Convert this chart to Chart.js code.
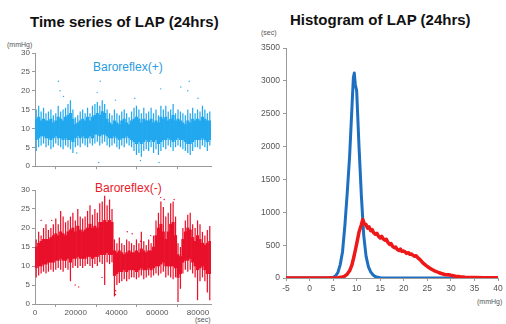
<!DOCTYPE html>
<html><head><meta charset="utf-8">
<script src="https://cdn.jsdelivr.net/npm/chart.js@4.4.0/dist/chart.umd.min.js"></script>
<style>
body{margin:0;width:506px;height:324px;background:#fff;position:relative;overflow:hidden;font-family:"Liberation Sans",Arial,sans-serif}
.t{position:absolute;white-space:nowrap;line-height:1}
canvas{position:absolute}
</style></head><body>
<div class="t" style="left:30px;top:14px;font-size:15px;font-weight:bold;color:#111">Time series of LAP (24hrs)</div>
<div class="t" style="left:290px;top:12px;font-size:15px;font-weight:bold;color:#111">Histogram of LAP (24hrs)</div>
<div class="t" style="left:7px;top:41px;font-size:7px;color:#555">(mmHg)</div>
<div class="t" style="left:261px;top:29px;font-size:7px;color:#555">(sec)</div>
<div class="t" style="left:195px;top:316px;font-size:7px;color:#555">(sec)</div>
<div class="t" style="left:477px;top:298px;font-size:7px;color:#555">(mmHg)</div>
<div class="t" style="left:93px;top:61px;font-size:12px;color:#2a9be0">Baroreflex(+)</div>
<div class="t" style="left:95px;top:182px;font-size:12px;color:#e8202a">Baroreflex(-)</div>
<canvas id="c1" width="222" height="128" style="left:0;top:45px"></canvas>
<canvas id="c2" width="222" height="142" style="left:0;top:182px"></canvas>
<canvas id="c3" width="253" height="270" style="left:253px;top:40px"></canvas>
<script>
// ---- Time series (24 h, bins of 1200 s) ----
const BIN = 1200;
const timeTicks = [0, 20000, 40000, 60000, 80000];
// Baroreflex(+) (blue)
const plusSpikeHigh = [15,16,14.5,15.5,14, 14.5,15,13.5,14,16,14.5,15,15.5, 16.5,17.5,15,13, 13.5,14.5,15,14,15.5,14,16, 16.5,17,16,17.5,16.5,15, 14,13.5,15,14,13.5,14.5,15,14,13,14.5,15.5, 16,15,14,15.5,14, 14.5,15.5,14,15,13.5,16, 15,16,14.5,15,16.5,14,15,14.5, 14,13.5,15,14,15.5,14, 15,14.5,16,15,14,14.5];
const plusSpikeLow  = [4,5,5.5,6,5, 5.5,4.5,5,6,5.5,5,4.5,5.5, 5,4.5,3.5,5, 5.5,5,6,5.5,5,6,5.5, 6,6.5,5.5,6,6.5,5.5, 5,5.5,6,5,4.5,5.5,5,6,5.5,5,4, 3,3.5,2.5,4,4.5, 4,5,3.5,4.5,3,4, 5,4.5,5.5,5,4,5,5.5,5, 4.5,4,3.5,3,4,5, 5,4.5,5.5,5,4,5.5];
const plusCoreHigh  = [12.5,13,12,12.5,12, 12,12.5,11.5,12,13,12.5,12,13, 13.5,14,12.5,11, 11.5,12,12.5,12,13,12,13, 13.5,14,13.5,14.5,14,12.5, 11.5,11,12,11.5,11,12,12.5,11.5,11,12,12.5, 13,12.5,11.5,12.5,12, 12,12.5,11.5,12,11.5,13, 12.5,13,12,12.5,13.5,12,12.5,12, 11.5,11,12,11.5,12.5,12, 12.5,12,13,12.5,12,12];
const plusCoreLow   = [7,7.5,8,8,7.5, 7.5,7,7.5,8,7.5,7.5,7,7.5, 7,7,6.5,7.5, 8,7.5,8,7.5,7.5,8,7.5, 8.5,8.5,8,8.5,8.5,8, 7.5,7.5,8,7.5,7,7.5,7.5,8,7.5,7,6.5, 6,6.5,6,6.5,7, 6.5,7,6.5,7,6,6.5, 7,7,7.5,7,6.5,7,7.5,7, 7,6.5,6,6,6.5,7, 7,7,7.5,7,6.5,7];
const plusOutT = [11500,12300,14000,30500,32000,39500,49000,61700,71600,75000,75700,80000,31300,51800,60900,20500];
const plusOutV = [22.5,20,18.5,19.5,22.5,17.5,18,20.5,21,20,22.5,18,1,1.5,1,3.5];
// Baroreflex(-) (red)
const minusSpikeHigh = [17,19,18,20,21,19.5, 20,21,22.5,21,24.5,23,21.5, 22,23,24,22,25,23,22.5, 23,24.5,26,23.5,25,24,26.5, 27,28.5,26,27.5,25, 17,16,17.5,16,15.5,17,16.5,16, 15.5,17,16,19,16.5,15.5,17,16,18, 22,24,27,25.5,23, 24,26.5,27,23, 16,15, 20,22,23.5,24,21, 20,22,21,19, 18,19.5,20.5];
const minusSpikeLow  = [7,7.5,8,8.5,8,8.5, 9,8.5,9,9.5,9,8.5,9.5, 9,6,9.5,10,9.5,10,9.5, 10,10.5,10,9.5,10.5,10,11, 10.5,5,11,10.5,11, 2,5,5.5,6,6.5,6,6.5,7, 7,6.5,7,7.5,6.5,7,7.5,7,7.5, 8,7.5,8,8.5,7, 7.5,7,6.5,7, 0.5,4, 8,9,8.5,9,8, 7,1,6,7, 6,3,1];
const minusCoreHigh  = [15,16,16.5,17,17,17, 17.5,18,18.5,18,19,18.5,18, 19,19.5,20,19,20.5,19.5,19, 19.5,20,21,20,20.5,20,21.5, 21.5,22,21.5,22,21.5, 14,13.5,14,13.5,13,13.5,14,13.5, 13.5,14,13.5,14.5,14,13.5,14,14,15, 18,20,21,19,17, 19,21,21.5,18, 13,12.5, 17,19,20,19.5,17.5, 16.5,18,17,16, 15.5,16,16.5];
const minusCoreLow   = [9.5,10,10,10.5,10.5,11, 11,11,11.5,11.5,12,11.5,11.5, 12,11,12,12,12.5,12,12, 12,12.5,12.5,12,12.5,12.5,13, 13,13,13.5,13,13, 7.5,8,8.5,8.5,9,8.5,9,9, 9,8.5,9,9.5,9,9,9.5,9,9.5, 10,10,10.5,11,10, 10,10,10,9.5, 7,8, 11,11.5,11.5,12,11, 10,9,9.5,10, 9,8,8];
const minusOutT = [3000,8200,19700,21400,32900,45300,47700,51800,56800,61700,63400,68300,39500,39600];
const minusOutV = [22,22,5,4.5,7,19,18.5,16.5,18,28,27.5,27.5,2.5,3.5];

// ---- Histogram ----
const histTicksX = [-5,0,5,10,15,20,25,30,35,40];
const blueX = [-5,4,5,5.5,6,6.5,7,7.5,8,8.5,9,9.3,9.5,9.7,10,10.5,11,11.5,12,12.5,13,13.5,14,15,16,40];
const blueY = [0,0,10,30,80,200,400,800,1300,1850,2600,3050,3120,2950,2850,2000,1250,650,330,170,90,45,20,5,0,0];
const redX = [-5,5,6,7,7.5,8,8.5,9,9.5,10,10.5,11,11.3,11.6,12,12.3,12.6,13,13.3,13.6,14,14.3,14.6,15,15.3,15.6,16,16.3,16.6,17,17.3,17.6,18,18.3,18.6,19,19.3,19.6,20,20.3,20.6,21,21.3,21.6,22,22.3,22.6,23,23.5,24,24.5,25,25.5,26,26.5,27,27.5,28,28.5,29,29.5,30,31,32,33,34,35,37,40];
const redY = [0,0,5,15,30,60,110,200,350,520,700,810,890,830,810,760,780,720,735,690,665,680,640,610,635,600,575,590,545,510,525,485,460,470,435,420,440,405,410,395,375,385,360,365,345,330,340,305,275,235,205,175,150,130,110,95,80,68,58,48,50,42,28,18,12,8,6,3,2];

const AX = '#9a9a9a', TK = '#555';
const F = {family:'"Liberation Sans", Arial, sans-serif', size:8};

function bars(lo, hi){ return lo.map((v,i)=>({x:i*BIN+BIN/2, y:[v, hi[i]]})); }
function pts(t, v){ return t.map((x,i)=>({x, y:v[i]})); }

function tsChart(id, color, sH, sL, cH, cL, oT, oV, showX, xH){
  return new Chart(document.getElementById(id), {
    type:'bar',
    data:{datasets:[
      {type:'scatter', data:pts(oT,oV), pointRadius:0.7, pointBackgroundColor:color, pointBorderWidth:0},
      {data:bars(cL,cH), backgroundColor:color, barPercentage:1, categoryPercentage:1, borderWidth:0, grouped:false},
      {data:bars(sL,sH), backgroundColor:color, barPercentage:0.5, categoryPercentage:1, borderWidth:0, grouped:false}
    ]},
    options:{
      responsive:false, animation:false, events:[],
      layout:{padding:{top:8, right:11, left:0, bottom:0}},
      plugins:{legend:{display:false}, tooltip:{enabled:false}},
      scales:{
        x:{type:'linear', min:0, max:86400, offset:false,
           afterBuildTicks:s=>{ s.ticks = timeTicks.map(v=>({value:v})); },
           afterFit:s=>{ s.height = xH; },
           grid:{display:true, drawOnChartArea:false, drawTicks:true, tickLength:3, color:AX},
           border:{display:true, color:AX},
           ticks:{display:showX, color:TK, font:F, padding:1, maxRotation:0, autoSkip:false, callback:v=>String(v)}},
        y:{min:0, max:30, afterFit:s=>{ s.width = 35; },
           grid:{display:true, drawOnChartArea:false, drawTicks:true, tickLength:3, color:AX},
           border:{display:true, color:AX},
           ticks:{stepSize:5, color:TK, font:F, padding:2}}
      }
    }
  });
}
tsChart('c1', '#22a8ee', plusSpikeHigh, plusSpikeLow, plusCoreHigh, plusCoreLow, plusOutT, plusOutV, false, 5);
tsChart('c2', '#e8102a', minusSpikeHigh, minusSpikeLow, minusCoreHigh, minusCoreLow, minusOutT, minusOutV, true, 20);

new Chart(document.getElementById('c3'), {
  type:'scatter',
  data:{datasets:[
    {data:pts(redX, redY), showLine:true, borderColor:'#ee1818', borderWidth:3.5, borderJoinStyle:'round', borderCapStyle:'round', pointRadius:0, tension:0},
    {data:pts(blueX, blueY), showLine:true, borderColor:'#1f6fc0', borderWidth:3, borderJoinStyle:'round', borderCapStyle:'round', pointRadius:0, tension:0}
  ]},
  options:{
    responsive:false, animation:false, events:[],
    layout:{padding:{top:8, right:8, left:0, bottom:0}},
    plugins:{legend:{display:false}, tooltip:{enabled:false}},
    scales:{
      x:{type:'linear', min:-5, max:40,
         afterBuildTicks:s=>{ s.ticks = histTicksX.map(v=>({value:v})); },
         afterFit:s=>{ s.height = 32; },
         grid:{display:true, drawOnChartArea:false, drawTicks:true, tickLength:3, color:AX},
         border:{display:true, color:AX},
         ticks:{color:TK, font:{...F, size:8.5}, padding:3, maxRotation:0, autoSkip:false, callback:v=>String(v)}},
      y:{min:0, max:3500, afterFit:s=>{ s.width = 33; },
         grid:{display:true, drawOnChartArea:false, drawTicks:true, tickLength:3, color:AX},
         border:{display:true, color:AX},
         ticks:{stepSize:500, color:TK, font:{...F, size:8.5}, padding:3, callback:v=>String(v)}}
    }
  }
});
</script>
</body></html>
